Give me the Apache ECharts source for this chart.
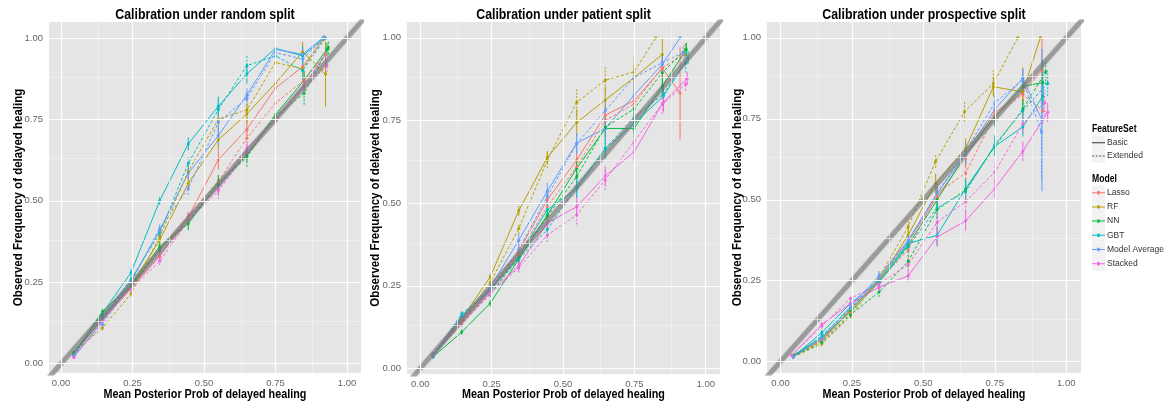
<!DOCTYPE html>
<html>
<head>
<meta charset="utf-8">
<script src="https://cdn.jsdelivr.net/npm/echarts@6/dist/echarts.min.js"></script>
<style>
html,body{margin:0;padding:0;background:#fff;}
#chart{width:1168px;height:407px;}
</style>
</head>
<body>
<div id="chart"></div>
<script>
// ---------- DATA ----------
const panelTitles = ['Calibration under random split', 'Calibration under patient split', 'Calibration under prospective split'];
const xAxisTitle = 'Mean Posterior Prob of delayed healing';
const yAxisTitle = 'Observed Frequency of delayed healing';
const models = ['Lasso', 'RF', 'NN', 'GBT', 'Model Average', 'Stacked'];
const featureSets = ['Basic', 'Extended'];
const modelColors = ['#F8766D', '#B79F00', '#00BA38', '#00BFC4', '#619CFF', '#F564E3'];
const tickValues = [0, 0.25, 0.5, 0.75, 1];
const minorValues = [0.125, 0.375, 0.625, 0.875];

// random split
const rnd_Lasso_B_x = [0.045,0.145,0.245,0.345,0.445,0.55,0.65,0.75,0.845,0.92];
const rnd_Lasso_B_y = [0.03,0.14,0.235,0.35,0.45,0.626,0.72,0.846,0.912,1.0];
const rnd_Lasso_B_e = [0.005,0.008,0.01,0.012,0.015,0.03,0.03,0.03,0.025,0.01];
const rnd_Lasso_E_x = [0.045,0.145,0.245,0.345,0.445,0.55,0.65,0.75,0.85,0.925];
const rnd_Lasso_E_y = [0.03,0.135,0.23,0.33,0.45,0.56,0.692,0.80,0.87,0.95];
const rnd_Lasso_E_e = [0.005,0.008,0.01,0.012,0.015,0.02,0.025,0.03,0.025,0.02];
const rnd_RF_B_x = [0.045,0.145,0.245,0.345,0.445,0.55,0.65,0.75,0.845,0.925];
const rnd_RF_B_y = [0.03,0.135,0.24,0.38,0.554,0.687,0.767,0.861,0.958,0.889];
const rnd_RF_B_e = [0.005,0.008,0.01,0.015,0.02,0.03,0.03,0.04,0.03,0.1];
const rnd_RF_E_x = [0.045,0.145,0.245,0.345,0.445,0.55,0.65,0.75,0.845,0.92];
const rnd_RF_E_y = [0.035,0.11,0.215,0.39,0.59,0.751,0.779,0.925,0.905,1.0];
const rnd_RF_E_e = [0.005,0.008,0.01,0.015,0.02,0.03,0.03,0.03,0.03,0.01];
const rnd_NN_B_x = [0.045,0.145,0.245,0.345,0.445,0.55,0.65,0.75,0.85,0.93];
const rnd_NN_B_y = [0.03,0.16,0.24,0.36,0.43,0.555,0.64,0.765,0.87,0.965];
const rnd_NN_B_e = [0.005,0.008,0.01,0.012,0.02,0.02,0.02,0.02,0.03,0.02];
const rnd_NN_E_x = [0.045,0.145,0.245,0.345,0.445,0.55,0.65,0.75,0.85,0.935];
const rnd_NN_E_y = [0.035,0.15,0.235,0.35,0.44,0.55,0.635,0.76,0.83,0.97];
const rnd_NN_E_e = [0.005,0.008,0.01,0.012,0.015,0.03,0.03,0.03,0.035,0.02];
const rnd_GBT_B_x = [0.045,0.145,0.245,0.345,0.445,0.55,0.65,0.75,0.845,0.92];
const rnd_GBT_B_y = [0.03,0.155,0.28,0.50,0.675,0.79,0.89,0.968,0.945,1.0];
const rnd_GBT_B_e = [0.005,0.008,0.012,0.012,0.02,0.03,0.03,0.015,0.03,0.005];
const rnd_GBT_E_x = [0.045,0.145,0.245,0.345,0.445,0.55,0.65,0.75,0.845,0.925];
const rnd_GBT_E_y = [0.03,0.14,0.26,0.40,0.615,0.78,0.915,0.945,0.90,1.0];
const rnd_GBT_E_e = [0.005,0.008,0.012,0.012,0.02,0.03,0.03,0.02,0.03,0.005];
const rnd_MA_B_x = [0.045,0.145,0.245,0.345,0.445,0.55,0.65,0.75,0.845,0.915];
const rnd_MA_B_y = [0.02,0.13,0.255,0.41,0.585,0.70,0.825,0.965,0.95,1.0];
const rnd_MA_B_e = [0.005,0.008,0.012,0.012,0.02,0.03,0.02,0.015,0.02,0.005];
const rnd_MA_E_x = [0.045,0.145,0.245,0.345,0.445,0.55,0.65,0.75,0.845,0.92];
const rnd_MA_E_y = [0.025,0.12,0.25,0.415,0.538,0.741,0.815,0.955,0.935,1.0];
const rnd_MA_E_e = [0.005,0.008,0.012,0.015,0.02,0.025,0.02,0.015,0.02,0.005];
const rnd_ST_B_x = [0.045,0.145,0.245,0.345,0.445,0.55,0.65,0.75,0.85,0.925];
const rnd_ST_B_y = [0.025,0.145,0.235,0.33,0.45,0.54,0.66,0.75,0.855,0.95];
const rnd_ST_B_e = [0.005,0.008,0.01,0.012,0.015,0.02,0.02,0.02,0.02,0.02];
const rnd_ST_E_x = [0.045,0.145,0.245,0.345,0.445,0.55,0.65,0.75,0.85,0.93];
const rnd_ST_E_y = [0.02,0.13,0.23,0.315,0.44,0.53,0.65,0.745,0.85,0.915];
const rnd_ST_E_e = [0.005,0.008,0.01,0.012,0.015,0.025,0.02,0.02,0.02,0.02];

// patient split
const pat_Lasso_B_x = [0.045,0.145,0.245,0.345,0.445,0.548,0.648,0.749,0.848,0.91];
const pat_Lasso_B_y = [0.04,0.145,0.235,0.355,0.51,0.63,0.766,0.81,0.908,0.833];
const pat_Lasso_B_e = [0.005,0.008,0.01,0.015,0.02,0.03,0.03,0.03,0.03,0.14];
const pat_Lasso_E_x = [0.045,0.145,0.245,0.345,0.445,0.548,0.648,0.749,0.848,0.925];
const pat_Lasso_E_y = [0.045,0.15,0.24,0.345,0.49,0.61,0.75,0.80,0.91,0.95];
const pat_Lasso_E_e = [0.005,0.008,0.01,0.015,0.02,0.03,0.03,0.03,0.03,0.03];
const pat_RF_B_x = [0.045,0.145,0.245,0.345,0.445,0.548,0.648,0.749,0.848];
const pat_RF_B_y = [0.04,0.15,0.277,0.477,0.638,0.744,0.812,0.88,0.95];
const pat_RF_B_e = [0.005,0.008,0.01,0.015,0.02,0.04,0.04,0.04,0.05];
const pat_RF_E_x = [0.045,0.145,0.245,0.345,0.445,0.548,0.648,0.749,0.825];
const pat_RF_E_y = [0.04,0.14,0.26,0.423,0.63,0.805,0.872,0.897,1.0];
const pat_RF_E_e = [0.005,0.008,0.01,0.015,0.025,0.04,0.04,0.05,0.005];
const pat_NN_B_x = [0.045,0.145,0.245,0.345,0.445,0.548,0.648,0.749,0.848,0.932];
const pat_NN_B_y = [0.035,0.11,0.197,0.33,0.464,0.605,0.726,0.726,0.854,0.965];
const pat_NN_B_e = [0.005,0.008,0.01,0.015,0.02,0.03,0.03,0.03,0.03,0.02];
const pat_NN_E_x = [0.045,0.145,0.245,0.345,0.445,0.548,0.648,0.749,0.848,0.93];
const pat_NN_E_y = [0.04,0.135,0.225,0.335,0.46,0.58,0.73,0.785,0.895,0.965];
const pat_NN_E_e = [0.005,0.008,0.01,0.015,0.02,0.03,0.03,0.03,0.03,0.02];
const pat_GBT_B_x = [0.045,0.145,0.245,0.345,0.445,0.548,0.648,0.749,0.852,0.938];
const pat_GBT_B_y = [0.035,0.16,0.235,0.34,0.48,0.544,0.665,0.74,0.824,0.94];
const pat_GBT_B_e = [0.005,0.008,0.01,0.015,0.02,0.03,0.03,0.03,0.03,0.02];
const pat_GBT_E_x = [0.045,0.145,0.245,0.345,0.445,0.548,0.648,0.749,0.852,0.93];
const pat_GBT_E_y = [0.04,0.165,0.24,0.33,0.42,0.55,0.665,0.76,0.83,0.925];
const pat_GBT_E_e = [0.005,0.008,0.01,0.015,0.02,0.03,0.03,0.03,0.03,0.03];
const pat_MA_B_x = [0.045,0.145,0.245,0.345,0.445,0.548,0.648,0.749,0.848,0.91];
const pat_MA_B_y = [0.04,0.15,0.245,0.388,0.536,0.682,0.726,0.827,0.92,1.0];
const pat_MA_B_e = [0.005,0.008,0.01,0.02,0.025,0.03,0.03,0.03,0.03,0.005];
const pat_MA_E_x = [0.045,0.145,0.245,0.345,0.445,0.548,0.648,0.749,0.848,0.92];
const pat_MA_E_y = [0.045,0.155,0.24,0.36,0.52,0.68,0.78,0.88,0.925,0.955];
const pat_MA_E_e = [0.005,0.008,0.01,0.02,0.02,0.03,0.03,0.03,0.03,0.02];
const pat_ST_B_x = [0.045,0.145,0.245,0.345,0.445,0.548,0.648,0.749,0.852,0.935];
const pat_ST_B_y = [0.04,0.14,0.23,0.31,0.44,0.489,0.582,0.655,0.806,0.877];
const pat_ST_B_e = [0.005,0.008,0.01,0.015,0.02,0.03,0.03,0.03,0.03,0.02];
const pat_ST_E_x = [0.045,0.145,0.245,0.345,0.445,0.548,0.648,0.749,0.848,0.93];
const pat_ST_E_y = [0.04,0.135,0.225,0.305,0.403,0.465,0.57,0.686,0.80,0.86];
const pat_ST_E_e = [0.005,0.008,0.01,0.015,0.02,0.03,0.03,0.03,0.03,0.02];

// prospective split
const pro_Lasso_B_x = [0.045,0.145,0.245,0.345,0.447,0.548,0.648,0.75,0.848,0.915];
const pro_Lasso_B_y = [0.015,0.07,0.16,0.255,0.37,0.51,0.63,0.77,0.83,0.90];
const pro_Lasso_B_e = [0.005,0.008,0.01,0.015,0.02,0.03,0.03,0.03,0.03,0.1];
const pro_Lasso_E_x = [0.045,0.145,0.245,0.345,0.447,0.548,0.648,0.75,0.848,0.918];
const pro_Lasso_E_y = [0.015,0.065,0.15,0.25,0.345,0.52,0.583,0.76,0.825,0.775];
const pro_Lasso_E_e = [0.005,0.008,0.01,0.015,0.02,0.03,0.03,0.03,0.03,0.04];
const pro_RF_B_x = [0.045,0.145,0.245,0.345,0.447,0.543,0.648,0.745,0.848,0.909];
const pro_RF_B_y = [0.02,0.065,0.16,0.25,0.391,0.551,0.659,0.849,0.833,1.0];
const pro_RF_B_e = [0.005,0.008,0.01,0.015,0.025,0.03,0.03,0.03,0.075,0.005];
const pro_RF_E_x = [0.045,0.145,0.249,0.345,0.447,0.543,0.644,0.745,0.83];
const pro_RF_E_y = [0.015,0.055,0.144,0.26,0.417,0.619,0.772,0.859,1.0];
const pro_RF_E_e = [0.005,0.008,0.01,0.015,0.02,0.02,0.03,0.04,0.005];
const pro_NN_B_x = [0.045,0.145,0.245,0.345,0.447,0.548,0.648,0.75,0.848,0.918];
const pro_NN_B_y = [0.02,0.075,0.155,0.245,0.36,0.50,0.64,0.755,0.85,0.862];
const pro_NN_B_e = [0.005,0.008,0.01,0.015,0.02,0.03,0.03,0.03,0.03,0.07];
const pro_NN_E_x = [0.045,0.145,0.245,0.345,0.447,0.548,0.648,0.75,0.848,0.928];
const pro_NN_E_y = [0.015,0.06,0.145,0.215,0.31,0.47,0.53,0.665,0.78,0.895];
const pro_NN_E_e = [0.005,0.008,0.01,0.015,0.02,0.03,0.03,0.03,0.03,0.04];
const pro_GBT_B_x = [0.045,0.145,0.245,0.345,0.447,0.548,0.648,0.75,0.848,0.918];
const pro_GBT_B_y = [0.015,0.09,0.18,0.25,0.365,0.39,0.535,0.665,0.725,0.82];
const pro_GBT_B_e = [0.005,0.008,0.01,0.015,0.02,0.03,0.03,0.03,0.03,0.05];
const pro_GBT_E_x = [0.045,0.145,0.245,0.345,0.447,0.548,0.648,0.75,0.848,0.935];
const pro_GBT_E_y = [0.015,0.08,0.165,0.245,0.355,0.475,0.525,0.67,0.775,0.86];
const pro_GBT_E_e = [0.005,0.008,0.01,0.015,0.02,0.03,0.03,0.03,0.03,0.04];
const pro_MA_B_x = [0.045,0.145,0.245,0.345,0.447,0.548,0.648,0.75,0.848,0.915];
const pro_MA_B_y = [0.015,0.075,0.17,0.265,0.375,0.52,0.64,0.78,0.875,0.746];
const pro_MA_B_e = [0.005,0.008,0.01,0.015,0.02,0.03,0.03,0.03,0.03,0.22];
const pro_MA_E_x = [0.045,0.145,0.245,0.345,0.447,0.548,0.648,0.75,0.848,0.913];
const pro_MA_E_y = [0.015,0.07,0.165,0.26,0.37,0.52,0.65,0.80,0.87,0.71];
const pro_MA_E_e = [0.005,0.008,0.01,0.015,0.02,0.03,0.03,0.03,0.03,0.15];
const pro_ST_B_x = [0.04,0.145,0.245,0.345,0.447,0.548,0.648,0.75,0.848,0.935];
const pro_ST_B_y = [0.02,0.115,0.18,0.23,0.265,0.385,0.435,0.535,0.65,0.77];
const pro_ST_B_e = [0.005,0.008,0.01,0.015,0.02,0.03,0.03,0.03,0.03,0.03];
const pro_ST_E_x = [0.04,0.145,0.245,0.345,0.447,0.548,0.648,0.75,0.848,0.925];
const pro_ST_E_y = [0.02,0.11,0.195,0.24,0.30,0.43,0.495,0.585,0.735,0.80];
const pro_ST_E_e = [0.005,0.008,0.01,0.015,0.02,0.03,0.03,0.03,0.03,0.04];

// table built from the named arrays: [panel, modelIndex, featureSetIndex, x, y, err]
const seriesTable = [
  [0,0,0,rnd_Lasso_B_x,rnd_Lasso_B_y,rnd_Lasso_B_e],[0,0,1,rnd_Lasso_E_x,rnd_Lasso_E_y,rnd_Lasso_E_e],
  [0,1,0,rnd_RF_B_x,rnd_RF_B_y,rnd_RF_B_e],[0,1,1,rnd_RF_E_x,rnd_RF_E_y,rnd_RF_E_e],
  [0,2,0,rnd_NN_B_x,rnd_NN_B_y,rnd_NN_B_e],[0,2,1,rnd_NN_E_x,rnd_NN_E_y,rnd_NN_E_e],
  [0,3,0,rnd_GBT_B_x,rnd_GBT_B_y,rnd_GBT_B_e],[0,3,1,rnd_GBT_E_x,rnd_GBT_E_y,rnd_GBT_E_e],
  [0,4,0,rnd_MA_B_x,rnd_MA_B_y,rnd_MA_B_e],[0,4,1,rnd_MA_E_x,rnd_MA_E_y,rnd_MA_E_e],
  [0,5,0,rnd_ST_B_x,rnd_ST_B_y,rnd_ST_B_e],[0,5,1,rnd_ST_E_x,rnd_ST_E_y,rnd_ST_E_e],
  [1,0,0,pat_Lasso_B_x,pat_Lasso_B_y,pat_Lasso_B_e],[1,0,1,pat_Lasso_E_x,pat_Lasso_E_y,pat_Lasso_E_e],
  [1,1,0,pat_RF_B_x,pat_RF_B_y,pat_RF_B_e],[1,1,1,pat_RF_E_x,pat_RF_E_y,pat_RF_E_e],
  [1,2,0,pat_NN_B_x,pat_NN_B_y,pat_NN_B_e],[1,2,1,pat_NN_E_x,pat_NN_E_y,pat_NN_E_e],
  [1,3,0,pat_GBT_B_x,pat_GBT_B_y,pat_GBT_B_e],[1,3,1,pat_GBT_E_x,pat_GBT_E_y,pat_GBT_E_e],
  [1,4,0,pat_MA_B_x,pat_MA_B_y,pat_MA_B_e],[1,4,1,pat_MA_E_x,pat_MA_E_y,pat_MA_E_e],
  [1,5,0,pat_ST_B_x,pat_ST_B_y,pat_ST_B_e],[1,5,1,pat_ST_E_x,pat_ST_E_y,pat_ST_E_e],
  [2,0,0,pro_Lasso_B_x,pro_Lasso_B_y,pro_Lasso_B_e],[2,0,1,pro_Lasso_E_x,pro_Lasso_E_y,pro_Lasso_E_e],
  [2,1,0,pro_RF_B_x,pro_RF_B_y,pro_RF_B_e],[2,1,1,pro_RF_E_x,pro_RF_E_y,pro_RF_E_e],
  [2,2,0,pro_NN_B_x,pro_NN_B_y,pro_NN_B_e],[2,2,1,pro_NN_E_x,pro_NN_E_y,pro_NN_E_e],
  [2,3,0,pro_GBT_B_x,pro_GBT_B_y,pro_GBT_B_e],[2,3,1,pro_GBT_E_x,pro_GBT_E_y,pro_GBT_E_e],
  [2,4,0,pro_MA_B_x,pro_MA_B_y,pro_MA_B_e],[2,4,1,pro_MA_E_x,pro_MA_E_y,pro_MA_E_e],
  [2,5,0,pro_ST_B_x,pro_ST_B_y,pro_ST_B_e],[2,5,1,pro_ST_E_x,pro_ST_E_y,pro_ST_E_e]
];

// ---------- LAYOUT ----------
const grids = [
  {left: 49, top: 22, width: 312, height: 351},
  {left: 407, top: 22, width: 313, height: 352},
  {left: 767, top: 22, width: 314, height: 351}
];
const xRanges = [[-0.042, 1.049], [-0.0466, 1.050], [-0.047, 1.0515]];
const yRanges = [[-0.0286, 1.049], [-0.017, 1.048], [-0.035, 1.049]];
const yTitleX = [18, 375, 737];

const sans = "'Liberation Sans',Arial,sans-serif";
const dashPat = [3, 2];

const chart = echarts.init(document.getElementById('chart'), null, {renderer: 'canvas'});

const xAxes = [], yAxes = [], series = [], graphics = [];
grids.forEach((g, i) => {
  xAxes.push({
    type: 'value', gridIndex: i, min: xRanges[i][0], max: xRanges[i][1],
    axisLine: {show: false},
    axisTick: {show: true, customValues: tickValues, length: 3, lineStyle: {color: '#7F7F7F'}},
    axisLabel: {customValues: tickValues, formatter: v => v.toFixed(2), margin: 5,
      fontFamily: sans, fontSize: 9.5, color: '#666'},
    splitLine: {show: false}
  });
  yAxes.push({
    type: 'value', gridIndex: i, min: yRanges[i][0], max: yRanges[i][1],
    axisLine: {show: false},
    axisTick: {show: true, customValues: tickValues, length: 3, lineStyle: {color: '#7F7F7F'}},
    axisLabel: {customValues: tickValues, formatter: v => v.toFixed(2), margin: 6,
      fontFamily: sans, fontSize: 9.5, color: '#666'},
    splitLine: {show: false}
  });
  const cx = g.left + g.width / 2;
  const cy = g.top + g.height / 2;
  graphics.push({type: 'text', x: cx, y: 15, scaleX: 0.88, silent: true,
    style: {text: panelTitles[i], font: 'bold 14px ' + sans, fill: '#000', textAlign: 'center', textVerticalAlign: 'middle'}});
  graphics.push({type: 'text', x: cx, y: 394, scaleX: 0.8, silent: true,
    style: {text: xAxisTitle, font: 'bold 13.5px ' + sans, fill: '#000', textAlign: 'center', textVerticalAlign: 'middle'}});
  graphics.push({type: 'text', x: yTitleX[i], y: cy, rotation: Math.PI / 2, scaleX: 0.85, silent: true,
    style: {text: yAxisTitle, font: 'bold 13.5px ' + sans, fill: '#000', textAlign: 'center', textVerticalAlign: 'middle'}});
  // minor grid
  series.push({
    type: 'line', xAxisIndex: i, yAxisIndex: i, data: [[-1, -1]], symbol: 'none', silent: true, z: 1,
    markLine: {silent: true, symbol: 'none', label: {show: false}, animation: false,
      lineStyle: {color: '#F2F2F2', width: 0.7, type: 'solid'},
      data: minorValues.map(v => ({xAxis: v})).concat(minorValues.map(v => ({yAxis: v})))}
  });
  // major grid
  series.push({
    type: 'line', xAxisIndex: i, yAxisIndex: i, data: [[-1, -1]], symbol: 'none', silent: true, z: 1,
    markLine: {silent: true, symbol: 'none', label: {show: false}, animation: false,
      lineStyle: {color: '#FFFFFF', width: 1.2, type: 'solid'},
      data: tickValues.map(v => ({xAxis: v})).concat(tickValues.map(v => ({yAxis: v})))}
  });
});

// data lines (Basic first so legend icons are solid)
[0, 1].forEach(fs => {
  seriesTable.filter(r => r[2] === fs).forEach(r => {
    const [p, m, f, xs, ys] = r;
    series.push({
      name: models[m], type: 'line', xAxisIndex: p, yAxisIndex: p,
      data: xs.map((x, k) => [x, ys[k]]),
      symbol: 'circle', symbolSize: 3, showSymbol: true,
      itemStyle: {color: modelColors[m]},
      lineStyle: {color: modelColors[m], width: 1, type: f === 0 ? 'solid' : dashPat},
      z: 3, animation: false
    });
  });
});

// error bars
seriesTable.forEach(r => {
  const [p, m, f, xs, ys, es] = r;
  series.push({
    type: 'custom', xAxisIndex: p, yAxisIndex: p, z: 3, silent: true, animation: false,
    data: xs.map((x, k) => [x, ys[k] - es[k], ys[k] + es[k]]),
    encode: {x: 0, y: [1, 2]},
    renderItem: (params, api) => {
      const a = api.coord([api.value(0), api.value(1)]);
      const b = api.coord([api.value(0), api.value(2)]);
      return {type: 'line', shape: {x1: a[0], y1: a[1], x2: b[0], y2: b[1]},
        style: {stroke: modelColors[m], lineWidth: 1, lineDash: f === 0 ? null : [2, 1.5]}};
    }
  });
});

// identity diagonal
grids.forEach((g, i) => {
  series.push({
    type: 'line', xAxisIndex: i, yAxisIndex: i, data: [[-0.2, -0.2], [1.2, 1.2]],
    symbol: 'none', silent: true, clip: true, z: 4, animation: false,
    lineStyle: {color: 'rgba(115,115,115,0.55)', width: 5, shadowBlur: 2, shadowColor: 'rgba(115,115,115,0.4)'}
  });
});

// legend dummies for FeatureSet
series.push({name: 'Basic', type: 'line', xAxisIndex: 0, yAxisIndex: 0, data: [], symbol: 'none',
  itemStyle: {color: '#333'}, lineStyle: {color: '#333', width: 1}});
series.push({name: 'Extended', type: 'line', xAxisIndex: 0, yAxisIndex: 0, data: [], symbol: 'none',
  itemStyle: {color: '#555'}, lineStyle: {color: '#555', width: 1, type: dashPat}});

// legend key backgrounds and titles
[142.7, 156].forEach(yc => graphics.push({type: 'rect', silent: true, z: -1,
  shape: {x: 1092, y: yc - 6.8, width: 13, height: 13.6}, style: {fill: '#F2F2F2'}}));
[192.7, 206.9, 221.1, 235.3, 249.5, 263.7].forEach(yc => graphics.push({type: 'rect', silent: true, z: -1,
  shape: {x: 1092, y: yc - 7.1, width: 13, height: 14.2}, style: {fill: '#F2F2F2'}}));
graphics.push({type: 'text', x: 1092, y: 129.3, scaleX: 0.82, silent: true,
  style: {text: 'FeatureSet', font: 'bold 10.5px ' + sans, fill: '#000', textAlign: 'left', textVerticalAlign: 'middle'}});
graphics.push({type: 'text', x: 1092, y: 179, scaleX: 0.82, silent: true,
  style: {text: 'Model', font: 'bold 10.5px ' + sans, fill: '#000', textAlign: 'left', textVerticalAlign: 'middle'}});

const dashIcon = 'path://M0,4.5L2,4.5L2,5.5L0,5.5Z M3.5,4.5L5.5,4.5L5.5,5.5L3.5,5.5Z M7,4.5L9,4.5L9,5.5L7,5.5Z M10.5,4.5L12.5,4.5L12.5,5.5L10.5,5.5Z M0,0L0.01,0L0.01,10L0,10Z';
const solidIcon = 'path://M0,4.5L13,4.5L13,5.5L0,5.5Z M0,0L0.01,0L0.01,10L0,10Z';
const dotIcon = 'path://M0,4.5L13,4.5L13,5.5L0,5.5Z M5.3,3.3L7.7,3.3L7.7,6.7L5.3,6.7Z M0,0L0.01,0L0.01,10L0,10Z';
const legendText = {fontFamily: sans, fontSize: 8.5, color: '#333', lineHeight: 10, padding: [0, 0, 0, -3]};

const option = {
  backgroundColor: '#fff',
  animation: false,
  grid: grids.map(g => Object.assign({show: true, backgroundColor: '#E5E5E5', borderWidth: 0, containLabel: false}, g)),
  xAxis: xAxes,
  yAxis: yAxes,
  legend: [
    {data: [{name: 'Basic', icon: solidIcon}, {name: 'Extended', icon: dashIcon}],
     orient: 'vertical', left: 1092, top: 137.7, itemWidth: 13, itemHeight: 10, itemGap: 3.3, padding: 0,
     selectedMode: false, itemStyle: {borderWidth: 0}, lineStyle: {width: 0}, textStyle: legendText},
    {data: models.map(n => ({name: n, icon: dotIcon})),
     orient: 'vertical', left: 1092, top: 187.7, itemWidth: 13, itemHeight: 10, itemGap: 4.2, padding: 0,
     selectedMode: false, itemStyle: {borderWidth: 0}, lineStyle: {width: 0}, textStyle: legendText}
  ],
  graphic: graphics,
  series: series
};
chart.setOption(option);
</script>
</body>
</html>
